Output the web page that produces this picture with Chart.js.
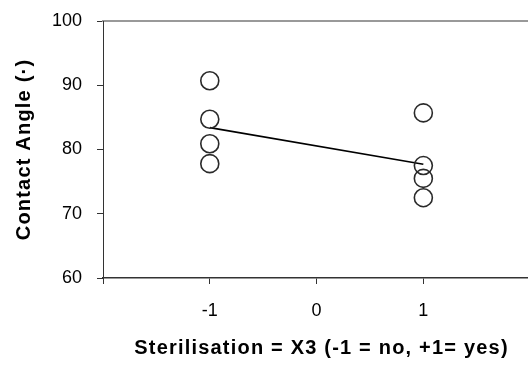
<!DOCTYPE html>
<html>
<head>
<meta charset="utf-8">
<script src="https://cdn.jsdelivr.net/npm/chart.js@4"></script>
<style>
  html, body { margin: 0; padding: 0; background: #fff; }
  #wrap { width: 528px; height: 367px; position: relative; }
</style>
</head>
<body>
<div id="wrap"><canvas id="c" width="528" height="367"></canvas></div>
<script>
// ---- data ----
const xLevels = [-1, 1];                       // Sterilisation X3
const valuesNo = [90.7, 84.7, 80.9, 77.8];     // X3 = -1
const valuesYes = [85.7, 77.5, 75.5, 72.5];    // X3 = +1
const meanLine = [83.4, 77.7];                 // fitted line at -1 and +1
const xTickValues = [-2, -1, 0, 1];
const xTickLabels = ['', '-1', '0', '1'];
const yTickValues = [60, 70, 80, 90, 100];
const xTitle = 'Sterilisation = X3 (-1 = no, +1= yes)';
const yTitle = 'Contact Angle (\u00b7)';

const pts = [];
valuesNo.forEach(v => pts.push({x: xLevels[0], y: v}));
valuesYes.forEach(v => pts.push({x: xLevels[1], y: v}));
const linePts = xLevels.map((x, i) => ({x: x, y: meanLine[i]}));

const FONT = "'Liberation Sans', Arial, sans-serif";

function spacedTitle(s, dx, dy) {
  if (s._spacedTitle) return;
  s._spacedTitle = true;
  const orig = Object.getPrototypeOf(s).drawTitle;
  s.drawTitle = function () {
    const ctx = this.ctx;
    ctx.save();
    ctx.letterSpacing = '1.2px';
    ctx.translate(dx, dy);
    orig.call(this);
    ctx.restore();
  };
}
function noPad(s) {
  s.paddingLeft = 0; s.paddingRight = 0; s.paddingTop = 0; s.paddingBottom = 0;
}

new Chart(document.getElementById('c'), {
  type: 'scatter',
  data: {
    datasets: [
      {
        type: 'line',
        data: linePts,
        borderColor: '#000',
        borderWidth: 1.6,
        pointRadius: 0,
        fill: false,
        order: 2
      },
      {
        data: pts,
        pointStyle: 'circle',
        pointRadius: 9,
        pointBorderWidth: 1.6,
        pointBorderColor: '#2a2a2a',
        pointBackgroundColor: 'rgba(0,0,0,0)',
        order: 1
      }
    ]
  },
  options: {
    responsive: false,
    animation: false,
    devicePixelRatio: 1,
    layout: { autoPadding: false, padding: { top: 21, right: 0, left: 0, bottom: 0 } },
    plugins: { legend: { display: false }, tooltip: { enabled: false } },
    scales: {
      x: {
        type: 'linear',
        position: 'bottom',
        min: -2,
        max: 1.98,
        afterBuildTicks: s => { s.ticks = xTickValues.map(v => ({value: v})); },
        afterFit: s => { s.height = 89; noPad(s); spacedTitle(s, 6, 0); },
        ticks: {
          autoSkip: false,
          maxRotation: 0,
          padding: 16,
          color: '#000',
          font: { family: FONT, size: 18 },
          callback: (v) => { const i = xTickValues.indexOf(v); return i >= 0 ? xTickLabels[i] : ''; }
        },
        grid: { drawOnChartArea: false, drawTicks: true, tickLength: 6, color: '#333', lineWidth: 1 },
        border: { display: true, color: '#333', width: 1.5 },
        title: {
          display: true,
          text: xTitle,
          color: '#000',
          font: { family: FONT, size: 20, weight: 'bold' },
          padding: { top: 0, bottom: 7 }
        }
      },
      x2: {
        type: 'linear',
        position: 'top',
        min: -2,
        max: 1.98,
        afterFit: s => { s.height = 0; noPad(s); },
        ticks: { display: false },
        grid: { display: false, drawTicks: false },
        border: { display: true, color: '#999', width: 2 }
      },
      y: {
        type: 'linear',
        min: 60,
        max: 100,
        afterBuildTicks: s => { s.ticks = yTickValues.map(v => ({value: v})); },
        afterFit: s => { s.width = 103; noPad(s); spacedTitle(s, 0, 0); },
        ticks: {
          padding: 15,
          color: '#000',
          font: { family: FONT, size: 18 }
        },
        grid: { drawOnChartArea: false, drawTicks: true, tickLength: 6, color: '#333', lineWidth: 1 },
        border: { display: true, color: '#333', width: 1 },
        title: {
          display: true,
          text: yTitle,
          color: '#000',
          font: { family: FONT, size: 20, weight: 'bold' },
          padding: { top: 12, bottom: 0 }
        }
      }
    }
  }
});
</script>
</body>
</html>
